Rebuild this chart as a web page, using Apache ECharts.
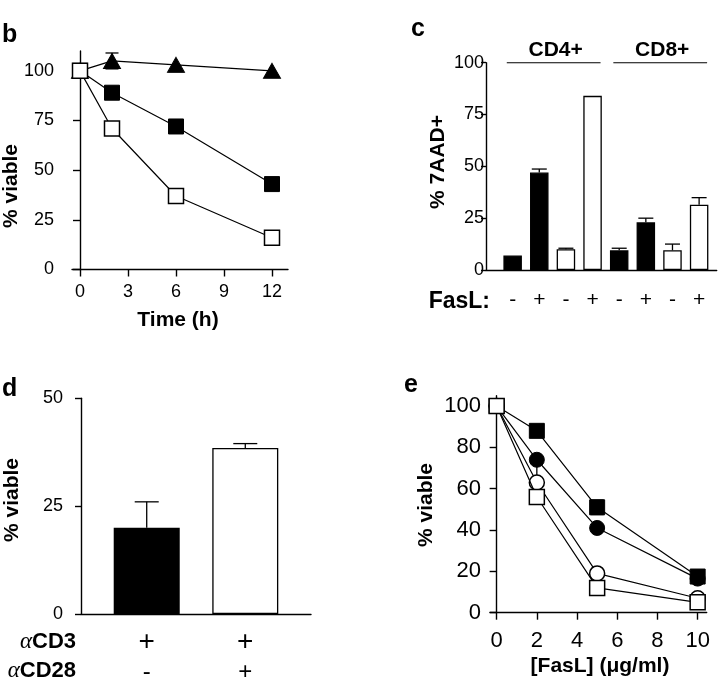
<!DOCTYPE html>
<html><head><meta charset="utf-8">
<script src="https://cdn.jsdelivr.net/npm/echarts@6/dist/echarts.min.js"></script>
<style>html,body{margin:0;padding:0;background:#fff}#c{width:720px;height:680px}</style>
</head><body><div id="c"></div>
<script>
// ---------- Panel b ----------
const bTime = [0, 2, 6, 12];
const bTriangle = [100, 105, 103, 100];
const bTriangleErr = [0, 4, 0, 0];
const bFilledSq = [100, 89, 72, 43];
const bOpenSq = [100, 71, 37, 16];
const bXTicks = [0, 3, 6, 9, 12];
const bYTicks = [0, 25, 50, 75, 100];

// ---------- Panel c ----------
const cGroups = ['CD4+', 'CD8+'];
const cFasL = ['-', '+', '-', '+', '-', '+', '-', '+'];
const cValues = [7, 47, 10, 84, 9.5, 23, 9.5, 31.5];
const cErrors = [0, 1.7, 0.5, 0, 1, 2, 3, 3.4];
const cFilled = [true, true, false, false, true, true, false, false];
const cYTicks = [0, 25, 50, 75, 100];

// ---------- Panel d ----------
const dCD3 = ['+', '+'];
const dCD28 = ['-', '+'];
const dValues = [20, 38.5];
const dErrors = [6, 1];
const dFilled = [true, false];
const dYTicks = [0, 25, 50];

// ---------- Panel e ----------
const eFasL = [0, 2, 5, 10];
const eFilledSq = [100, 88, 51, 17.5];
const eFilledSqErr = [0, 0, 3.5, 0];
const eFilledCirc = [100, 74, 41, 16.5];
const eFilledCircErrLow = [0, 8, 0, 0];
const eOpenCirc = [100, 63, 19, 7];
const eOpenSq = [100, 56, 12, 5];
const eXTicks = [0, 2, 4, 6, 8, 10];
const eYTicks = [0, 20, 40, 60, 80, 100];

const FONT = '"Liberation Sans", Arial, Helvetica, sans-serif';
const BLACK = '#000';

function errRender(capW, capLow, capHigh) {
  return function (params, api) {
    const x = api.value(0), lo = api.value(1), hi = api.value(2);
    if (hi === lo) return { type: 'group', children: [] };
    const p1 = api.coord([x, lo]), p2 = api.coord([x, hi]);
    const style = { stroke: BLACK, lineWidth: 1.3, fill: null };
    const ch = [{ type: 'line', shape: { x1: p1[0], y1: p1[1], x2: p2[0], y2: p2[1] }, style }];
    if (capHigh) ch.push({ type: 'line', shape: { x1: p2[0] - capW / 2, y1: p2[1], x2: p2[0] + capW / 2, y2: p2[1] }, style });
    if (capLow) ch.push({ type: 'line', shape: { x1: p1[0] - capW / 2, y1: p1[1], x2: p1[0] + capW / 2, y2: p1[1] }, style });
    return { type: 'group', children: ch };
  };
}

function xAxis(o) {
  return Object.assign({
    type: 'value',
    axisLine: { lineStyle: { color: BLACK, width: 1.4 } },
    axisTick: { lineStyle: { color: BLACK, width: 1.4 }, length: 7 },
    splitLine: { show: false },
    axisLabel: { color: BLACK, fontFamily: FONT }
  }, o);
}

function lineSeries(xi, xs, ys, symbol, size, filled, z) {
  return {
    type: 'line', xAxisIndex: xi, yAxisIndex: xi,
    data: xs.map((x, i) => [x, ys[i]]),
    symbol: symbol, symbolSize: size, showAllSymbol: true,
    lineStyle: { color: BLACK, width: 1.2 },
    itemStyle: filled ? { color: BLACK, borderColor: BLACK, borderWidth: 1 } : { color: '#fff', borderColor: BLACK, borderWidth: 1.5 },
    z: z, animation: false, emphasis: { disabled: true }
  };
}

const chart = echarts.init(document.getElementById('c'), null, { renderer: 'canvas' });

const cPos = cValues.map((v, i) => i + 1);
const dPos = dValues.map((v, i) => 2 + 3 * i);

const option = {
  animation: false,
  backgroundColor: '#fff',
  grid: [
    { left: 72, top: 51, width: 216, height: 218.5, outerBoundsMode: 'none', containLabel: false },
    { left: 486, top: 62.7, width: 230.7, height: 207.3, outerBoundsMode: 'none', containLabel: false },
    { left: 81, top: 398.3, width: 230, height: 215.7, outerBoundsMode: 'none', containLabel: false },
    { left: 490, top: 395.7, width: 216.7, height: 217, outerBoundsMode: 'none', containLabel: false }
  ],
  xAxis: [
    xAxis({ gridIndex: 0, min: -0.5, max: 13,
      axisTick: { customValues: bXTicks, length: 7, lineStyle: { color: BLACK, width: 1.4 } },
      axisLabel: { customValues: bXTicks, fontSize: 18, margin: 14, color: BLACK, fontFamily: FONT } }),
    xAxis({ gridIndex: 1, min: 0, max: 8.66,
      axisTick: { show: false },
      axisLabel: { customValues: cPos, fontSize: 21, margin: 20, color: BLACK, fontFamily: FONT,
        formatter: v => cFasL[v - 1] || '' } }),
    xAxis({ gridIndex: 2, min: 0, max: 7,
      axisTick: { show: false },
      axisLabel: { customValues: dPos, margin: 13, color: BLACK, fontFamily: FONT,
        formatter: v => { const i = dPos.indexOf(v); return i < 0 ? '' : '{p|' + dCD3[i] + '}\n{q|' + dCD28[i] + '}'; },
        rich: { p: { fontSize: 28, lineHeight: 30, fontFamily: FONT }, q: { fontSize: 24, lineHeight: 30, fontFamily: FONT } } } }),
    xAxis({ gridIndex: 3, min: -0.33, max: 10.45,
      axisTick: { customValues: eXTicks, length: 7, lineStyle: { color: BLACK, width: 1.4 } },
      axisLabel: { customValues: eXTicks, fontSize: 22, margin: 17, color: BLACK, fontFamily: FONT } })
  ],
  yAxis: [
    xAxis({ gridIndex: 0, min: 0, max: 110,
      axisTick: { customValues: bYTicks, length: 7, lineStyle: { color: BLACK, width: 1.4 } },
      axisLabel: { customValues: bYTicks, fontSize: 18, margin: 18, color: BLACK, fontFamily: FONT } }),
    xAxis({ gridIndex: 1, min: 0, max: 100,
      axisTick: { customValues: cYTicks, length: 5, lineStyle: { color: BLACK, width: 1.4 } },
      axisLabel: { customValues: cYTicks, fontSize: 18, margin: 2, color: BLACK, fontFamily: FONT } }),
    xAxis({ gridIndex: 2, min: 0, max: 50,
      axisTick: { customValues: dYTicks, length: 6, lineStyle: { color: BLACK, width: 1.4 } },
      axisLabel: { customValues: dYTicks, fontSize: 18, margin: 18, color: BLACK, fontFamily: FONT } }),
    xAxis({ gridIndex: 3, min: 0, max: 105,
      axisTick: { customValues: eYTicks, length: 7, lineStyle: { color: BLACK, width: 1.4 } },
      axisLabel: { customValues: eYTicks, fontSize: 22, margin: 9, color: BLACK, fontFamily: FONT } })
  ],
  series: [
    // ---- b ----
    { type: 'custom', xAxisIndex: 0, yAxisIndex: 0, z: 1,
      data: bTime.map((t, i) => [t, bTriangle[i] - bTriangleErr[i], bTriangle[i] + bTriangleErr[i]]),
      renderItem: errRender(13, true, true) },
    lineSeries(0, bTime, bTriangle, 'triangle', [17, 15], true, 2),
    lineSeries(0, bTime, bFilledSq, 'rect', 15, true, 3),
    lineSeries(0, bTime, bOpenSq, 'rect', 15, false, 4),
    // ---- c ----
    { type: 'bar', xAxisIndex: 1, yAxisIndex: 1, barWidth: 18.5, z: 2,
      data: cValues.map((v, i) => ({ value: [cPos[i], v], itemStyle: { color: cFilled[i] ? BLACK : '#fff', borderColor: BLACK, borderWidth: 1.3 } })),
      emphasis: { disabled: true } },
    { type: 'custom', xAxisIndex: 1, yAxisIndex: 1, z: 3,
      data: cValues.map((v, i) => [cPos[i], v, v + cErrors[i]]),
      renderItem: errRender(15, false, true) },
    // ---- d ----
    { type: 'bar', xAxisIndex: 2, yAxisIndex: 2, barWidth: 66, z: 2,
      data: dValues.map((v, i) => ({ value: [dPos[i], v], itemStyle: { color: dFilled[i] ? BLACK : '#fff', borderColor: BLACK, borderWidth: 1.3 } })),
      emphasis: { disabled: true } },
    { type: 'custom', xAxisIndex: 2, yAxisIndex: 2, z: 3,
      data: dValues.map((v, i) => [dPos[i], v, v + dErrors[i]]),
      renderItem: errRender(24, false, true) },
    // ---- e ----
    { type: 'custom', xAxisIndex: 3, yAxisIndex: 3, z: 1,
      data: eFasL.map((x, i) => [x, eFilledSq[i] - eFilledSqErr[i], eFilledSq[i] + eFilledSqErr[i]]),
      renderItem: errRender(13, true, true) },
    { type: 'custom', xAxisIndex: 3, yAxisIndex: 3, z: 1,
      data: eFasL.map((x, i) => [x, eFilledCirc[i] - eFilledCircErrLow[i], eFilledCirc[i]]),
      renderItem: errRender(10, false, false) },
    lineSeries(3, eFasL, eFilledSq, 'rect', 15, true, 2),
    lineSeries(3, eFasL, eFilledCirc, 'circle', 15, true, 3),
    lineSeries(3, eFasL, eOpenCirc, 'circle', 15, false, 4),
    lineSeries(3, eFasL, eOpenSq, 'rect', 15, false, 5)
  ]
};
chart.setOption(option);

function txt(text, x, y, size, opts) {
  opts = opts || {};
  return {
    type: 'text', x: x, y: y, rotation: opts.rot || 0, z: 10,
    style: Object.assign({ text: text, font: (opts.weight || 'bold') + ' ' + size + 'px ' + FONT, fill: BLACK,
      align: opts.align || 'center', verticalAlign: opts.va || 'middle' }, opts.style || {})
  };
}

// group bars in panel c
const gLines = cGroups.map((g, gi) => {
  const a = chart.convertToPixel({ xAxisIndex: 1, yAxisIndex: 1 }, [cPos[gi * 4] - 0.22, 100]);
  const b = chart.convertToPixel({ xAxisIndex: 1, yAxisIndex: 1 }, [cPos[gi * 4 + 3] + 0.3, 100]);
  return { line: { type: 'line', z: 10, shape: { x1: a[0], y1: a[1], x2: b[0], y2: b[1] }, style: { stroke: BLACK, lineWidth: 1.1 } },
           label: txt(g, (a[0] + b[0]) / 2 + 2, 50, 21) };
});

const alphaRich = { a: { font: 'italic 23px "Liberation Serif", serif', fill: BLACK }, b: { font: 'bold 22px ' + FONT, fill: BLACK } };

chart.setOption({
  graphic: [
    txt('b', 2, 23, 25, { align: 'left', va: 'alphabetic' }),
    txt('c', 411, 17, 25, { align: 'left', va: 'alphabetic' }),
    txt('d', 2, 377, 25, { align: 'left', va: 'alphabetic' }),
    txt('e', 404, 373, 25, { align: 'left', va: 'alphabetic' }),
    txt('% viable', 11, 186, 21, { rot: Math.PI / 2 }),
    txt('Time (h)', 178, 320, 21),
    txt('% 7AAD+', 438, 162, 21, { rot: Math.PI / 2 }),
    txt('FasL:', 490, 302, 23, { align: 'right' }),
    gLines[0].line, gLines[1].line, gLines[0].label, gLines[1].label,
    txt('% viable', 12.5, 500, 21, { rot: Math.PI / 2 }),
    { type: 'text', x: 76, y: 642, z: 10, style: { text: '{a|α}{b|CD3}', rich: alphaRich, align: 'right', verticalAlign: 'middle' } },
    { type: 'text', x: 76, y: 671, z: 10, style: { text: '{a|α}{b|CD28}', rich: alphaRich, align: 'right', verticalAlign: 'middle' } },
    txt('% viable', 426, 505, 21, { rot: Math.PI / 2 }),
    txt('[FasL] (μg/ml)', 600, 666, 21)
  ]
});
</script>
</body></html>
